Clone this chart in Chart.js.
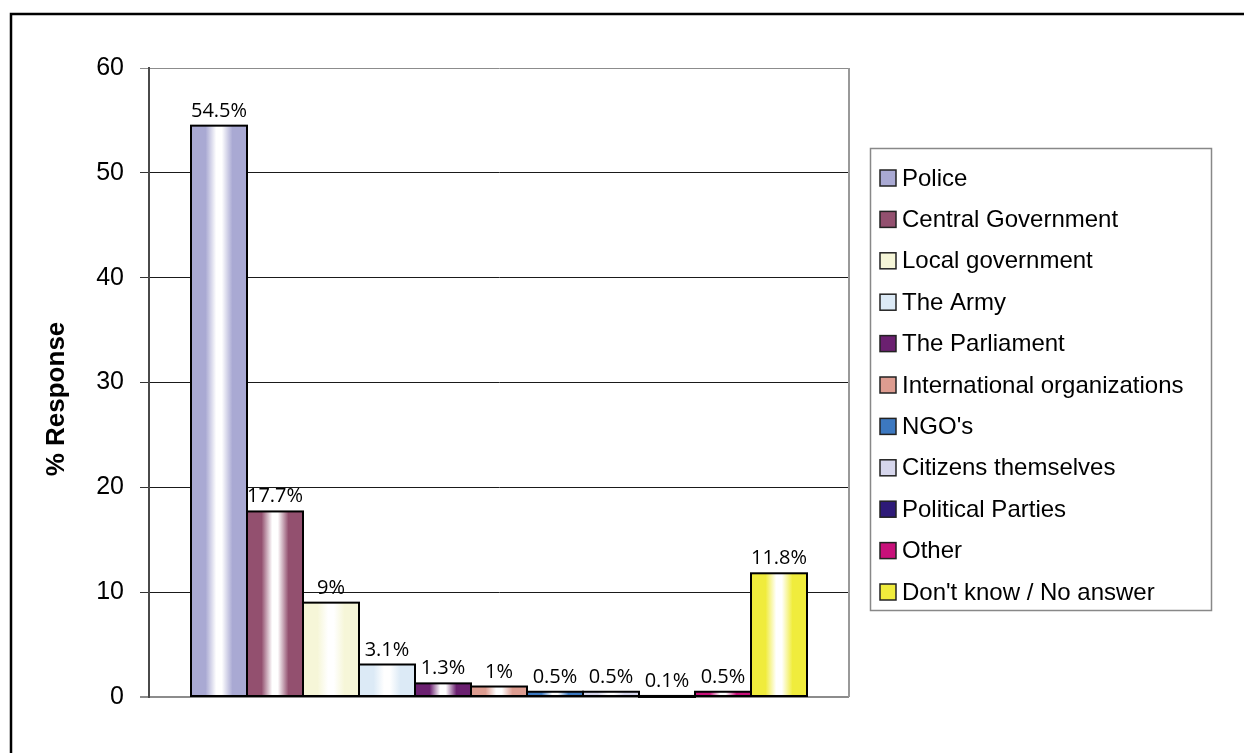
<!DOCTYPE html>
<html>
<head>
<meta charset="utf-8">
<script src="https://cdn.jsdelivr.net/npm/chart.js@4/dist/chart.umd.min.js"></script>
<style>
  html, body { margin: 0; padding: 0; background: #fff; overflow: hidden; }
  canvas { display: block; }
</style>
</head>
<body>
<canvas id="responseChart" width="1244" height="753"></canvas>
<script>
  // data
  const seriesNames = ['Police', 'Central Government', 'Local government', 'The Army', 'The Parliament',
    'International organizations', "NGO's", 'Citizens themselves', 'Political Parties', 'Other',
    "Don't know / No answer"];
  const responseValues = [54.5, 17.7, 9, 3.1, 1.3, 1, 0.5, 0.5, 0.1, 0.5, 11.8];
  const seriesColors = ['#a9a9d3', '#93506f', '#f6f6d8', '#dceaf6', '#6b2070', '#dd9c90',
    '#3c78c0', '#d6d6ec', '#2e1a78', '#c8107a', '#f0ec3c'];
  const yTicks = [0, 10, 20, 30, 40, 50, 60];
  const yTitle = '% Response';

  const datasets = seriesNames.map((name, i) => ({
    label: name,
    data: [responseValues[i]],
    backgroundColor: seriesColors[i],
    borderWidth: 0
  }));

  // cylinder-like shading on each bar, black outline and value labels
  const shadePlugin = {
    id: 'shade',
    beforeDatasetsDraw(chart) {
      const ctx = chart.ctx;
      chart.data.datasets.forEach((ds, i) => {
        const el = chart.getDatasetMeta(i).data[0];
        if (!el) return;
        const x0 = el.x - el.width / 2, x1 = el.x + el.width / 2;
        const g = ctx.createLinearGradient(x0, 0, x1, 0);
        const c = seriesColors[i];
        g.addColorStop(0, c);
        g.addColorStop(0.26, c);
        g.addColorStop(0.45, '#ffffff');
        g.addColorStop(0.55, '#ffffff');
        g.addColorStop(0.74, c);
        g.addColorStop(1, c);
        el.options.backgroundColor = g;
      });
    },
    afterDatasetsDraw(chart) {
      const ctx = chart.ctx;
      ctx.save();
      ctx.strokeStyle = '#000';
      ctx.lineWidth = 2;
      chart.data.datasets.forEach((ds, i) => {
        const el = chart.getDatasetMeta(i).data[0];
        const x0 = el.x - el.width / 2;
        ctx.strokeRect(x0, el.y, el.width, Math.max(el.base - el.y, 1));
      });
      ctx.font = '20px "Open Sans", sans-serif';
      ctx.fillStyle = '#000';
      ctx.textAlign = 'center';
      ctx.textBaseline = 'alphabetic';
      chart.data.datasets.forEach((ds, i) => {
        const el = chart.getDatasetMeta(i).data[0];
        ctx.fillText(ds.data[0] + '%', el.x, el.y - 9);
      });
      ctx.restore();
    }
  };

  // outer frame, plot frame, axis title and boxed legend
  const framePlugin = {
    id: 'frame',
    beforeDraw(chart) {
      const ctx = chart.ctx;
      ctx.save();
      ctx.fillStyle = '#fff';
      ctx.fillRect(0, 0, chart.width, chart.height);
      ctx.strokeStyle = '#000';
      ctx.lineWidth = 2.5;
      ctx.strokeRect(11, 14, 1400, 1000);
      ctx.restore();
    },
    afterDraw(chart) {
      const ctx = chart.ctx;
      const a = chart.chartArea;
      ctx.save();
      ctx.strokeStyle = '#999';
      ctx.lineWidth = 2;
      ctx.beginPath();
      ctx.moveTo(a.right, a.top);
      ctx.lineTo(a.right, a.bottom);
      ctx.stroke();

      // y title
      ctx.translate(57, 399);
      ctx.rotate(-Math.PI / 2);
      ctx.font = 'bold 26px "Liberation Sans", Arial, sans-serif';
      ctx.fillStyle = '#000';
      ctx.textAlign = 'center';
      ctx.textBaseline = 'middle';
      ctx.fillText(yTitle, 0, 0);
      ctx.restore();

      // legend
      ctx.save();
      ctx.strokeStyle = '#888';
      ctx.lineWidth = 1.5;
      ctx.strokeRect(870.5, 148.5, 341, 462);
      ctx.font = '24px "Liberation Sans", Arial, sans-serif';
      ctx.textBaseline = 'middle';
      ctx.textAlign = 'left';
      seriesNames.forEach((name, i) => {
        const y = 178 + i * 41.4;
        ctx.fillStyle = seriesColors[i];
        ctx.fillRect(880, y - 8, 16, 16);
        ctx.strokeStyle = '#222';
        ctx.lineWidth = 1.5;
        ctx.strokeRect(880, y - 8, 16, 16);
        ctx.fillStyle = '#000';
        ctx.fillText(name, 902, y + 1);
      });
      ctx.restore();
    }
  };

  const ctx = document.getElementById('responseChart').getContext('2d');
  new Chart(ctx, {
    type: 'bar',
    data: {
      labels: [''],
      datasets: datasets
    },
    options: {
      responsive: false,
      animation: false,
      events: [],
      datasets: {
        bar: { categoryPercentage: 0.88, barPercentage: 1 }
      },
      layout: {
        padding: { left: 0, right: 395, top: 68, bottom: 48 }
      },
      plugins: {
        legend: { display: false },
        tooltip: { enabled: false }
      },
      scales: {
        x: {
          ticks: { display: false },
          grid: { display: false },
          border: { display: false }
        },
        y: {
          min: yTicks[0],
          max: yTicks[yTicks.length - 1],
          afterFit(scale) { scale.width = 149; },
          afterBuildTicks(scale) { scale.ticks = yTicks.map(v => ({ value: v })); },
          ticks: {
            color: '#000',
            padding: 16,
            font: { family: '"Liberation Sans", Arial, sans-serif', size: 25 }
          },
          grid: {
            tickLength: 9,
            color: c => (c.tick.value === 0 || c.tick.value === 60) ? '#8c8c8c' : '#1a1a1a',
            tickColor: c => (c.tick.value === 0 || c.tick.value === 60) ? '#8c8c8c' : '#333',
            lineWidth: c => c.tick.value === 0 ? 2 : 1
          },
          border: { color: '#4a4a4a', width: 2 }
        }
      }
    },
    plugins: [shadePlugin, framePlugin]
  });
</script>
</body>
</html>
